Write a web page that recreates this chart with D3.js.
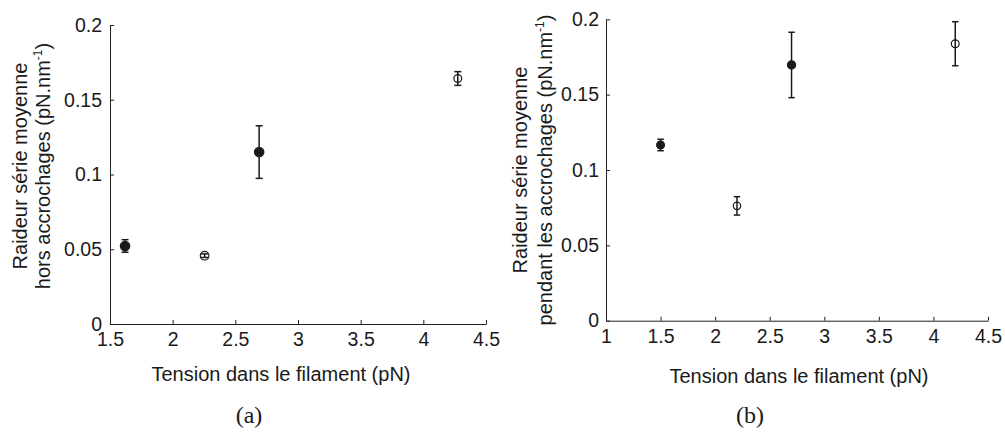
<!DOCTYPE html>
<html>
<head>
<meta charset="utf-8">
<script src="https://cdn.jsdelivr.net/npm/d3@7"></script>
<style>
  html, body { margin: 0; padding: 0; background: #fff; }
  svg { display: block; }
  text { font-family: "Liberation Sans", Arial, Helvetica, sans-serif; fill: #1a1a1a; }
  .domain, .tick line { stroke: #222; stroke-width: 1; }
</style>
</head>
<body>
<script>
// ---- Panel (a): raideur hors accrochages ----
const tensionA = [1.62, 2.255, 2.69, 4.275];
const raideurA = [0.0522, 0.0457, 0.115, 0.1642];
const errA     = [0.0042, 0.0012, 0.0176, 0.0046];
const filledA  = [true, false, true, false];
const xTicksA  = [1.5, 2, 2.5, 3, 3.5, 4, 4.5];

// ---- Panel (b): raideur pendant les accrochages ----
const tensionB = [1.5, 2.2, 2.7, 4.2];
const raideurB = [0.1166, 0.0762, 0.1697, 0.1838];
const errB     = [0.0038, 0.0061, 0.0217, 0.0146];
const filledB  = [true, false, true, false];
const xTicksB  = [1, 1.5, 2, 2.5, 3, 3.5, 4, 4.5];

const yTicks = [0, 0.05, 0.1, 0.15, 0.2];

const xLabel = "Tension dans le filament (pN)";
const yLabelA = ["Raideur série moyenne", "hors accrochages (pN.nm"];
const yLabelB = ["Raideur série moyenne", "pendant les accrochages (pN.nm"];
const panelNames = ["(a)", "(b)"];

const W = 1005, H = 432;
const svg = d3.select("body").append("svg").attr("width", W).attr("height", H);

const fmt = d => String(d);
const TICK_FS = 19.5;

function panel(cfg) {
  const g = svg.append("g");
  const x = d3.scaleLinear().domain(cfg.xDomain).range(cfg.xRange);
  const y = d3.scaleLinear().domain([0, 0.2]).range(cfg.yRange);

  const xAxis = g.append("g")
    .attr("transform", `translate(0,${cfg.yRange[0]})`)
    .call(d3.axisBottom(x).tickValues(cfg.xTicks).tickFormat(fmt)
      .tickSizeInner(-4).tickSizeOuter(0).tickPadding(8));
  xAxis.attr("font-family", null).attr("font-size", null);
  xAxis.selectAll("text").attr("font-size", TICK_FS);

  const yAxis = g.append("g")
    .attr("transform", `translate(${cfg.xRange[0]},0)`)
    .call(d3.axisLeft(y).tickValues(yTicks).tickFormat(fmt)
      .tickSizeInner(-4).tickSizeOuter(0).tickPadding(cfg.yPad));
  yAxis.attr("font-family", null).attr("font-size", null);
  yAxis.selectAll("text").attr("font-size", TICK_FS);
  g.selectAll(".domain").attr("stroke", "#222");
  g.selectAll(".tick line").attr("stroke", "#222");

  // error bars
  const data = cfg.xs.map((v, i) => ({x: v, y: cfg.ys[i], e: cfg.es[i], f: cfg.filled[i]}));
  const eb = g.append("g").attr("stroke", "#1a1a1a").attr("stroke-width", 1.5).attr("fill", "none");
  data.forEach(d => {
    const cx = x(d.x);
    eb.append("line").attr("x1", cx).attr("x2", cx).attr("y1", y(d.y - d.e)).attr("y2", y(d.y + d.e));
    [d.y - d.e, d.y + d.e].forEach(v => {
      eb.append("line").attr("x1", cx - cfg.cap).attr("x2", cx + cfg.cap).attr("y1", y(v)).attr("y2", y(v));
    });
  });
  // markers
  g.append("g").selectAll("circle").data(data).join("circle")
    .attr("cx", d => x(d.x)).attr("cy", d => y(d.y))
    .attr("r", (d, i) => cfg.r[i])
    .attr("fill", d => d.f ? "#1a1a1a" : "none")
    .attr("stroke", "#1a1a1a").attr("stroke-width", 1.2);

  // x label
  g.append("text").attr("x", cfg.xLabelX).attr("y", cfg.xLabelY)
    .attr("text-anchor", "middle").attr("font-size", 20).text(xLabel);

  // y label (two lines)
  cfg.yLabel.forEach((s, i) => {
    const t = g.append("text")
      .attr("transform", `translate(${cfg.yLabelX[i]},${cfg.yLabelCy}) rotate(-90)`)
      .attr("text-anchor", "middle").attr("font-size", 20);
    t.append("tspan").text(s);
    if (i === 1) {
      t.append("tspan").attr("font-size", 12).attr("dy", -8).text("-1");
      t.append("tspan").attr("dy", 8).text(")");
    }
  });

  // panel name
  g.append("text").attr("x", cfg.nameX).attr("y", 423)
    .attr("text-anchor", "middle").attr("font-size", 24)
    .style("font-family", '"Liberation Serif", "DejaVu Serif", serif')
    .text(cfg.name);
}

panel({
  xDomain: [1.5, 4.5], xRange: [110, 486], yRange: [324, 25],
  xTicks: xTicksA, yPad: 8,
  xs: tensionA, ys: raideurA, es: errA, filled: filledA,
  r: [4.7, 4.3, 4.7, 3.9], cap: 3.5,
  xLabelX: 281, xLabelY: 381,
  yLabel: yLabelA, yLabelX: [27, 50], yLabelCy: 166,
  nameX: 249, name: panelNames[0]
});

panel({
  xDomain: [1, 4.5], xRange: [606, 988], yRange: [320.7, 19.3],
  xTicks: xTicksB, yPad: 7,
  xs: tensionB, ys: raideurB, es: errB, filled: filledB,
  r: [3.9, 3.7, 4.1, 3.9], cap: 3.2,
  xLabelX: 799, xLabelY: 383,
  yLabel: yLabelB, yLabelX: [527, 552], yLabelCy: 170,
  nameX: 750, name: panelNames[1]
});
</script>
</body>
</html>
